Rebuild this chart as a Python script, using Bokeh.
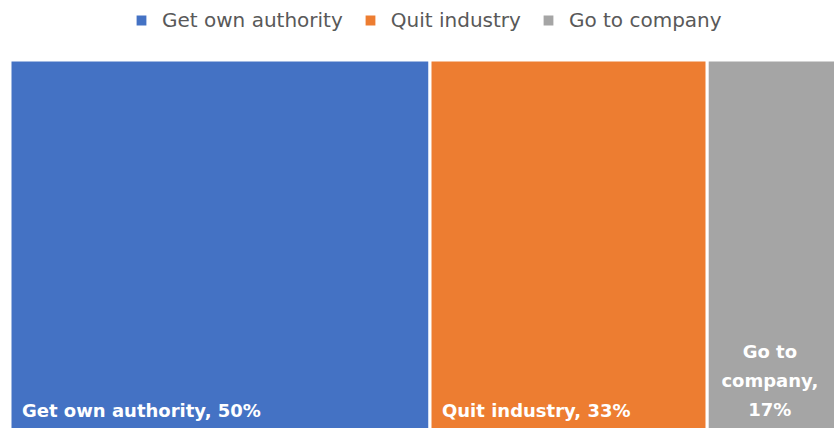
from bokeh.plotting import figure
from bokeh.models import Range1d, Legend, LegendItem
from bokeh.core.properties import value
from bokeh.embed import file_html
from bokeh.resources import INLINE

categories = ["Get own authority", "Quit industry", "Go to company"]
shares = [50, 33, 17]
colors = ["#4472C4", "#ED7D31", "#A5A5A5"]

FONT = "DejaVu Sans"
W, H = 834, 428

starts = []
acc = 0
for s in shares:
    starts.append(acc)
    acc += s
ends = [a + s for a, s in zip(starts, shares)]

px_per_x = 8.4
x_start = -9.5 / px_per_x
x_end = x_start + W / px_per_x
px_per_y = 3.69
y_end = 100 + 59.5 / px_per_y
y_start = y_end - H / px_per_y

p = figure(width=W, height=H, output_backend="svg", toolbar_location=None,
           x_range=Range1d(x_start, x_end), y_range=Range1d(y_start, y_end),
           min_border=0, outline_line_color=None)
p.axis.visible = False
p.grid.visible = False
p.background_fill_color = "white"
p.border_fill_color = "white"

renderers = []
for c, a, b, col in zip(categories, starts, ends, colors):
    r = p.quad(left=a, right=b, bottom=y_start - 5, top=100, fill_color=col,
               line_color="white", line_width=3)
    renderers.append(r)

for c, a, s in list(zip(categories, starts, shares))[:2]:
    p.text(x=[a], y=[y_start], text=[f"{c}, {s}%"], x_offset=12, y_offset=-8,
           text_color="white", text_font=value(FONT), text_font_size="18px",
           text_font_style="bold", text_baseline="bottom", text_align="left")

a_last = starts[-1]
cx = (a_last + x_end) / 2
words = categories[-1].split(" ")
lbl = " ".join(words[:2]) + "\n" + words[2] + ",\n" + f"{shares[-1]}%"
p.text(x=[cx], y=[y_start], text=[lbl], y_offset=-8, x_offset=-1,
       text_color="white", text_font=value(FONT), text_font_size="18px",
       text_font_style="bold", text_baseline="bottom", text_align="center",
       text_line_height=1.4)

legend = Legend(items=[LegendItem(label=c, renderers=[r]) for c, r in zip(categories, renderers)],
                orientation="horizontal", location=(131, H - 34),
                glyph_width=16, glyph_height=16, label_standoff=13, spacing=19,
                label_text_font=FONT, label_text_font_size="20px",
                label_text_color="#595959", background_fill_alpha=0,
                border_line_alpha=0, padding=2, margin=0, label_height=22)
p.add_layout(legend)

open("out.html", "w").write(file_html(p, INLINE))
